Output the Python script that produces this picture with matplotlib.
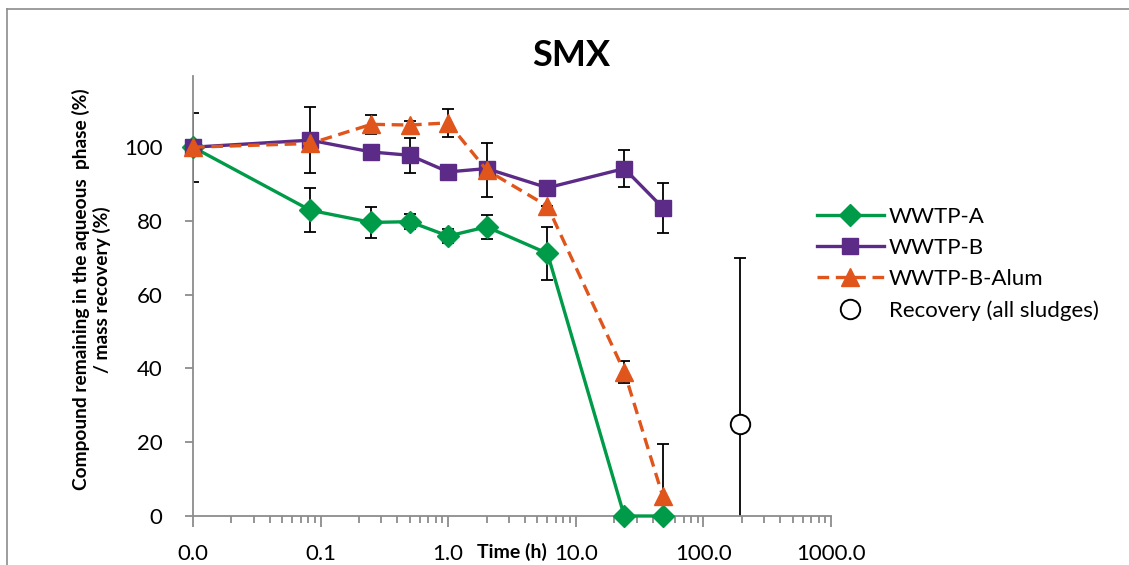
import matplotlib
matplotlib.use('Agg')
import matplotlib.pyplot as plt
from matplotlib.lines import Line2D
from matplotlib.ticker import LogLocator, NullFormatter

plt.rcParams['font.family'] = ['Lato', 'DejaVu Sans']

# time 0 is drawn at 0.01 h on the log axis
time_h = [0.01, 0.083, 0.25, 0.5, 1, 2, 6, 24, 48]
wwtp_a = [100, 82.9, 79.6, 79.8, 75.9, 78.4, 71.2, 0, 0]
wwtp_a_err = [0, 6, 4.2, 2, 1.8, 3.2, 7.1, 0, 0]
wwtp_b = [100, 101.9, 98.7, 97.8, 93.3, 94.2, 89.0, 94.2, 83.6]
wwtp_b_err = [9.4, 9, 0, 4.7, 0, 0, 0, 5, 6.8]
wwtp_alum = [100, 101, 106.2, 106, 106.6, 93.8, 84.0, 39.1, 5.4]
wwtp_alum_err = [0, 0, 2.5, 1, 3.8, 7.4, 0, 3, 14]
recovery_t = [192]
recovery = [25]
recovery_err = [45]

xtick_vals = [0.01, 0.1, 1, 10, 100, 1000]
xtick_labels = ['0.0', '0.1', '1.0', '10.0', '100.0', '1000.0']
ytick_vals = [0, 20, 40, 60, 80, 100]

green = '#009B48'
purple = '#5B2B87'
orange = '#E0551B'
axis_gray = '#8C8C8C'

fig = plt.figure(figsize=(11.29, 5.65), dpi=100)
ax = fig.add_axes([193 / 1129, 1 - 516 / 565, 638 / 1129, 440 / 565])

# error bars (clipped at the axis like the original)
for t, v, e in [(time_h, wwtp_a, wwtp_a_err), (time_h, wwtp_b, wwtp_b_err),
                (time_h, wwtp_alum, wwtp_alum_err), (recovery_t, recovery, recovery_err)]:
    ax.errorbar(t, v, yerr=e, fmt='none', ecolor='black', elinewidth=1.3,
                capsize=4, capthick=1.3, zorder=2)

ax.plot(time_h, wwtp_a, color=green, lw=2.4, marker='D', ms=11,
        label='WWTP-A', clip_on=False, zorder=3)
ax.plot(time_h, wwtp_b, color=purple, lw=2.4, marker='s', ms=12,
        label='WWTP-B', clip_on=False, zorder=4)
ax.plot(time_h, wwtp_alum, color=orange, lw=2.4, ls=(0, (3.5, 2)), marker='^', ms=13,
        label='WWTP-B-Alum', clip_on=False, zorder=5)
ax.plot(recovery_t, recovery, ls='none', marker='o', ms=14, mfc='white', mec='black',
        mew=1.4, label='Recovery (all sludges)', clip_on=False, zorder=6)

ax.set_xscale('log')
ax.set_xlim(0.01, 1000)
ax.set_ylim(0, 119.3)
ax.set_xticks(xtick_vals, labels=xtick_labels)
ax.xaxis.set_minor_locator(LogLocator(base=10, subs=range(2, 10), numticks=20))
ax.xaxis.set_minor_formatter(NullFormatter())
ax.set_yticks(ytick_vals)

for s in ['top', 'right']:
    ax.spines[s].set_visible(False)
for s in ['left', 'bottom']:
    ax.spines[s].set_color(axis_gray)
    ax.spines[s].set_linewidth(1.3)
ax.tick_params(axis='y', direction='out', length=6, width=1.3, color=axis_gray,
               labelsize=16, pad=16)
ax.tick_params(axis='x', which='major', direction='out', length=8, width=1.3,
               color=axis_gray, labelsize=16, pad=12)
ax.tick_params(axis='x', which='minor', direction='out', length=5, width=1.3,
               color=axis_gray)

ax.set_ylabel('Compound remaining in the aqueous  phase (%)\n/ mass recovery (%)',
              fontsize=13.8, fontweight='bold', linespacing=1.2)
ax.yaxis.set_label_coords(-0.128, 0.515)
fig.text(512 / 1129, 1 - 552 / 565, 'Time (h)', fontsize=14, fontweight='bold',
         ha='center', va='center')
fig.text(571 / 1129, 1 - 56 / 565, 'SMX', fontsize=26, fontweight='bold',
         ha='center', va='center')

fig.legend(loc='upper left', bbox_to_anchor=(808 / 1129, 1 - 198 / 565),
           frameon=False, fontsize=16, handlelength=3.0, handletextpad=0.25,
           labelspacing=0.5, borderaxespad=0)

# outer chart border
fig.add_artist(Line2D([6.5 / 1129, 6.5 / 1129], [0, 1 - 9 / 565], color=axis_gray, lw=1.2))
fig.add_artist(Line2D([6.5 / 1129, 1], [1 - 9 / 565, 1 - 9 / 565], color=axis_gray, lw=1.2))

fig.savefig('out.png', dpi=100)
